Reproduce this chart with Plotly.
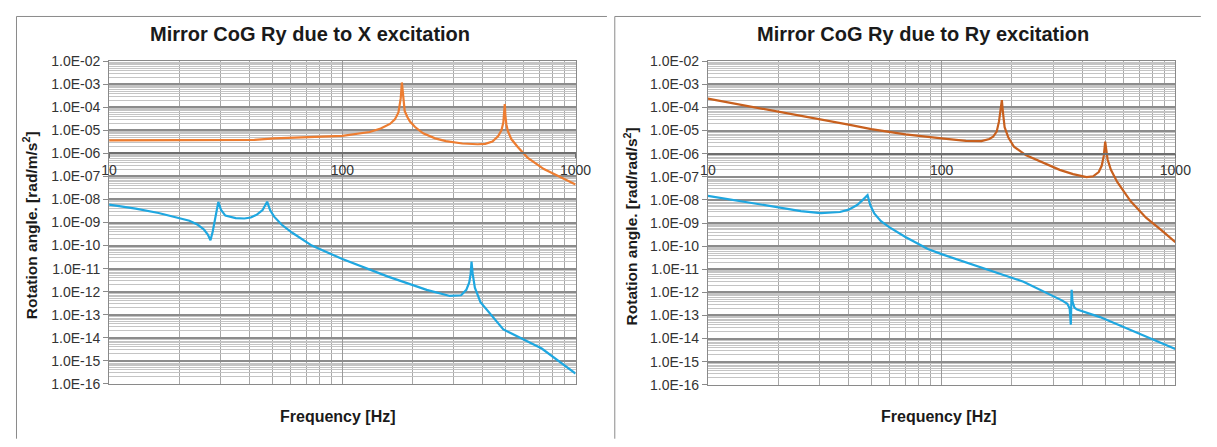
import math
import plotly.graph_objects as go

# ---------------- data ----------------
# Left chart: Mirror CoG Ry due to X excitation
left_orange_f = [10, 20, 30, 42, 51, 74, 100, 131, 146, 160, 168, 174, 178, 180, 182, 185, 190, 195,
                 205, 222, 250, 278, 327, 380, 410, 440, 465, 481, 490, 495, 497, 500, 505, 513, 530,
                 565, 622, 731, 887, 1000]
left_orange_v = [3.7e-6, 3.7e-6, 3.8e-6, 3.9e-6, 4.5e-6, 5.0e-6, 5.8e-6, 8.5e-6, 1.2e-5, 1.9e-5, 3.0e-5,
                 6.0e-5, 2.5e-4, 1.2e-3, 2.5e-4, 7.0e-5, 3.8e-5, 2.4e-5, 1.4e-5, 7.4e-6, 4.5e-6, 3.4e-6,
                 2.7e-6, 2.5e-6, 2.6e-6, 3.3e-6, 5.5e-6, 1.0e-5, 2.2e-5, 5.5e-5, 1.4e-4, 4.5e-5, 1.8e-5,
                 9.0e-6, 4.2e-6, 1.9e-6, 6.6e-7, 2.1e-7, 8.3e-8, 4.5e-8]

left_blue_f = [10, 13, 16.3, 19, 22.1, 24, 25.5, 26.5, 27.2, 27.8, 28.5, 29.4, 30.2, 31.5, 34.9, 38,
               40.5, 43, 45.5, 47.6, 49, 51, 55, 61, 74, 100, 157, 230, 289, 323, 340, 350, 355, 358,
               362, 370, 391, 423, 490, 716, 1000]
left_blue_v = [6.0e-9, 4.0e-9, 2.6e-9, 1.8e-9, 1.2e-9, 8.0e-10, 5.0e-10, 3.0e-10, 1.7e-10, 4.0e-10,
               1.5e-9, 7.9e-9, 3.5e-9, 2.0e-9, 1.55e-9, 1.5e-9, 1.65e-9, 2.2e-9, 3.5e-9, 8.0e-9, 3.5e-9,
               1.8e-9, 8.0e-10, 3.6e-10, 1.0e-10, 2.6e-11, 4.5e-12, 1.2e-12, 6.5e-13, 7.0e-13, 1.2e-12,
               2.5e-12, 6.0e-12, 2.0e-11, 6.0e-12, 1.5e-12, 3.5e-13, 1.4e-13, 2.3e-14, 3.4e-15, 2.8e-16]

# Right chart: Mirror CoG Ry due to Ry excitation
right_orange_f = [10, 14, 20, 30, 40, 50, 70, 100, 127, 148, 160, 166, 172, 176, 179, 181, 183, 186, 193,
                  204, 230, 270, 320, 365, 417, 445, 470, 484, 494, 501, 507, 513, 530, 564, 644, 749,
                  871, 1000]
right_orange_v = [2.4e-4, 1.3e-4, 6.5e-5, 3.2e-5, 1.8e-5, 1.15e-5, 6.8e-6, 4.6e-6, 3.6e-6, 3.5e-6, 4.3e-6,
                  5.4e-6, 9.0e-6, 2.5e-5, 8.0e-5, 2.1e-4, 6.0e-5, 1.4e-5, 5.0e-6, 2.0e-6, 8.5e-7, 4.1e-7,
                  2.0e-7, 1.3e-7, 9.7e-8, 1.05e-7, 1.6e-7, 3.0e-7, 8.0e-7, 3.3e-6, 9.0e-7, 5.6e-7, 2.0e-7,
                  6.0e-8, 8.7e-9, 1.7e-9, 4.9e-10, 1.5e-10]

right_blue_f = [10, 14, 19.3, 25, 30.4, 36.7, 40, 43.5, 46, 48.2, 49.5, 51.5, 55, 59.9, 70, 87.3, 100,
                154, 224, 327, 345, 353, 357, 360, 363, 370, 380, 476, 692, 1000]
right_blue_v = [1.5e-8, 8.5e-9, 4.8e-9, 3.3e-9, 2.7e-9, 3.0e-9, 3.8e-9, 6.0e-9, 1.0e-8, 1.6e-8, 6.0e-9,
                2.6e-9, 1.2e-9, 6.5e-10, 2.5e-10, 7.5e-11, 4.5e-11, 1.0e-11, 2.9e-12, 4.5e-13, 3.2e-13,
                2.0e-13, 4.0e-14, 1.3e-12, 4.0e-13, 2.2e-13, 1.8e-13, 8.5e-14, 1.7e-14, 3.5e-15]

titles = ["Mirror CoG Ry due to X excitation", "Mirror CoG Ry due to Ry excitation"]
y_titles = ["Rotation angle. [rad/m/s<sup>2</sup>]", "Rotation angle. [rad/rad/s<sup>2</sup>]"]
x_title = "Frequency [Hz]"

y_tickvals = [10.0 ** e for e in range(-2, -17, -1)]
y_ticktext = ["1.0E-02", "1.0E-03", "1.0E-04", "1.0E-05", "1.0E-06", "1.0E-07", "1.0E-08", "1.0E-09",
              "1.0E-10", "1.0E-11", "1.0E-12", "1.0E-13", "1.0E-14", "1.0E-15", "1.0E-16"]
x_tickvals = [10, 100, 1000]
x_ticktext = ["10", "100", "1000"]
x_axis_cross = 1e-6

# ---------------- layout helpers ----------------
# the page body keeps its default 8px margin, so the figure is sized to fit the 1217x447 window
PAGE_W, PAGE_H, PAGE_MARGIN = 1217, 447, 8
W, H = PAGE_W - 2 * PAGE_MARGIN, PAGE_H - 2 * PAGE_MARGIN


def px(x):
    return (x - PAGE_MARGIN) / W


def py(y):
    return 1 - (y - PAGE_MARGIN) / H


FONT = "Liberation Sans, Arial, sans-serif"
ORANGE_L = "#ED7D31"
ORANGE_R = "#C8601E"
BLUE = "#1FA7E0"

y_minor = [k * 10.0 ** e for e in range(-16, -2) for k in range(2, 10)]
x_minor = [k * 10.0 ** e for e in range(1, 3) for k in range(2, 10)]

panels = [
    dict(px=(103, 579), py=(55, 390), title_x=308, ytitle_x=23, xtitle_x=337),
    dict(px=(714, 1191), py=(55, 391), title_x=934, ytitle_x=635, xtitle_x=950),
]
series = [
    [(left_orange_f, left_orange_v, ORANGE_L), (left_blue_f, left_blue_v, BLUE)],
    [(right_orange_f, right_orange_v, ORANGE_R), (right_blue_f, right_blue_v, BLUE)],
]

fig = go.Figure()
layout = dict(
    width=W, height=H, margin=dict(l=0, r=0, t=0, b=0),
    paper_bgcolor="white", plot_bgcolor="white", showlegend=False,
    font=dict(family=FONT, color="#404040"),
)
annotations = []
shapes = []

for i, p in enumerate(panels):
    xa = "xaxis" if i == 0 else "xaxis2"
    ya = "yaxis" if i == 0 else "yaxis2"
    xr = "x" if i == 0 else "x2"
    yr = "y" if i == 0 else "y2"
    xo = "xaxis%d" % (3 + i)
    xor = "x%d" % (3 + i)
    xdom = [px(p["px"][0]), px(p["px"][1])]
    ydom = [py(p["py"][1]), py(p["py"][0])]

    layout[xa] = dict(
        type="log", range=[1, 3], domain=xdom, anchor=yr,
        tickmode="array", tickvals=x_tickvals, showticklabels=False, ticks="",
        showgrid=True, gridcolor="#9a9a9a", gridwidth=1,
        minor=dict(tickmode="array", tickvals=x_minor, showgrid=True, gridcolor="#a8a8a8", gridwidth=1, ticks=""),
        showline=True, mirror=True, linecolor="#8a8a8a", linewidth=1, zeroline=False,
    )
    layout[ya] = dict(
        type="log", range=[-16, -2], domain=ydom, anchor=xr,
        tickmode="array", tickvals=y_tickvals, ticktext=y_ticktext,
        ticks="outside", ticklen=5, tickcolor="#8a8a8a", tickwidth=1,
        tickfont=dict(size=14, color="#333333", family=FONT),
        showgrid=True, gridcolor="#8c8c8c", gridwidth=1.5,
        minor=dict(tickmode="array", tickvals=y_minor, showgrid=True, gridcolor="#c4c4c4", gridwidth=1, ticks=""),
        showline=True, mirror=True, linecolor="#8a8a8a", linewidth=1, zeroline=False,
    )
    frac = (math.log10(x_axis_cross) + 16) / 14
    layout[xo] = dict(
        type="log", range=[1, 3], overlaying=xr, anchor="free",
        position=ydom[0] + frac * (ydom[1] - ydom[0]),
        tickmode="array", tickvals=x_tickvals, ticktext=x_ticktext,
        ticks="outside", ticklen=4, tickcolor="#707070",
        tickfont=dict(size=14, color="#333333", family=FONT),
        showgrid=False, showline=True, linecolor="#6e6e6e", linewidth=1.5, zeroline=False,
    )

    for f, v, c in series[i]:
        fig.add_trace(go.Scatter(x=f, y=v, mode="lines", line=dict(color=c, width=2.2),
                                 xaxis=xr, yaxis=yr, hoverinfo="skip"))
    fig.add_trace(go.Scatter(x=[10], y=[1e-30], mode="markers", marker=dict(opacity=0),
                             xaxis=xor, yaxis=yr, hoverinfo="skip"))

    annotations.append(dict(text="<b>%s</b>" % titles[i], x=px(p["title_x"]), y=py(27),
                            xref="paper", yref="paper", showarrow=False, xanchor="center", yanchor="middle",
                            font=dict(size=20, color="#1a1a1a", family=FONT)))
    annotations.append(dict(text="<b>%s</b>" % x_title, x=px(p["xtitle_x"]), y=py(424),
                            xref="paper", yref="paper", showarrow=False, xanchor="center", yanchor="middle",
                            font=dict(size=16, color="#1a1a1a", family=FONT)))
    annotations.append(dict(text="<b>%s</b>" % y_titles[i], x=px(p["ytitle_x"]),
                            y=py((p["py"][0] + p["py"][1]) / 2 + 3),
                            xref="paper", yref="paper", showarrow=False, xanchor="center", yanchor="middle",
                            textangle=-90, font=dict(size=15.5, color="#1a1a1a", family=FONT)))

# panel frames
for (x0, x1) in [(8.5, 611), (619, 1217)]:
    shapes.append(dict(type="line", xref="paper", yref="paper", x0=px(x0), x1=px(x0), y0=py(PAGE_H),
                       y1=py(8.5), line=dict(color="#8a8a8a", width=1)))
    shapes.append(dict(type="line", xref="paper", yref="paper", x0=px(x0), x1=px(x1), y0=py(8.5),
                       y1=py(8.5), line=dict(color="#8a8a8a", width=1)))

layout["annotations"] = annotations
layout["shapes"] = shapes
fig.update_layout(**layout)
fig.write_html("out.html", config={"displayModeBar": False})
